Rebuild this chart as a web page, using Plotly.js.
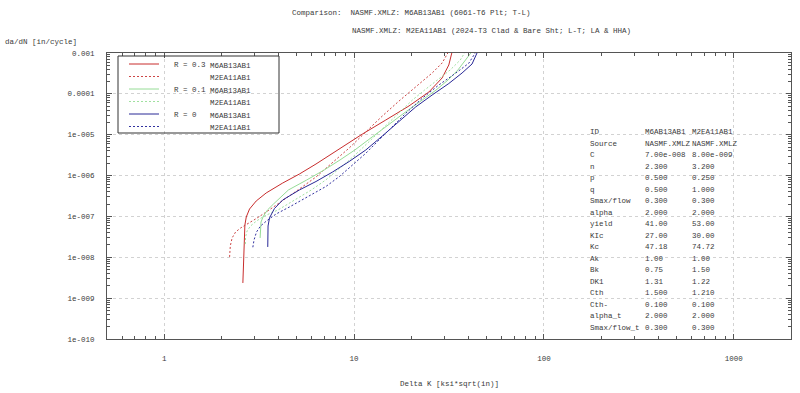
<!DOCTYPE html>
<html><head><meta charset="utf-8">
<script src="https://cdn.plot.ly/plotly-3.0.1.min.js"></script>
<style>html,body{margin:0;padding:0;background:#fff}</style>
</head><body><div id="chart" style="width:800px;height:393px"></div>
<script>
// ---------- data ----------
const rLabels = ['R = 0.3', 'R = 0.1', 'R = 0'];
const matIds = ['M6AB13AB1', 'M2EA11AB1'];

const r03_M6_K    = [2.597, 2.610, 2.626, 2.638, 2.661, 2.706, 2.816, 3.053, 3.445, 4.211, 5.152, 6.303, 8.354, 11.07, 14.69, 19.46, 24.78, 29.09, 31.55, 32.71];
const r03_M6_dadn = [2.35e-9, 4.89e-9, 1.51e-8, 3.52e-8, 6.17e-8, 9.68e-8, 1.52e-7, 2.39e-7, 3.75e-7, 6.58e-7, 1.09e-6, 1.92e-6, 4.48e-6, 1.04e-5, 2.29e-5, 5.05e-5, 1.11e-4, 2.45e-4, 5.09e-4, 1.0e-3];

const r03_M2_K    = [2.211, 2.230, 2.279, 2.378, 2.526, 2.749, 3.028, 3.445, 4.211, 5.152, 6.303, 7.701, 9.426, 11.53, 14.09, 17.25, 21.10, 25.78, 29.09, 31.17];
const r03_M2_dadn = [1.02e-8, 1.89e-8, 2.97e-8, 4.16e-8, 5.21e-8, 6.53e-8, 8.65e-8, 1.28e-7, 2.39e-7, 4.70e-7, 9.23e-7, 2.03e-6, 4.73e-6, 1.17e-5, 2.87e-5, 6.68e-5, 1.47e-4, 3.24e-4, 5.69e-4, 1.0e-3];

const r01_M6_K    = [3.201, 3.205, 3.236, 3.335, 3.501, 3.763, 4.096, 4.511, 5.633, 6.960, 8.433, 10.10, 11.86, 13.91, 16.33, 19.29, 22.88, 27.03, 31.28, 35.22, 38.28, 41.17];
const r01_M6_dadn = [2.97e-8, 5.21e-8, 7.31e-8, 1.03e-7, 1.44e-7, 2.01e-7, 2.99e-7, 4.44e-7, 7.80e-7, 1.37e-6, 2.41e-6, 4.23e-6, 7.43e-6, 1.31e-5, 2.29e-5, 4.03e-5, 7.07e-5, 1.24e-4, 2.19e-4, 3.84e-4, 6.37e-4, 1.0e-3];

const r01_M2_K    = [2.677, 2.683, 2.733, 2.850, 3.064, 3.376, 3.978, 4.891, 5.954, 7.096, 8.232, 9.460, 10.80, 12.24, 13.82, 15.64, 17.75, 20.30, 23.52, 27.46, 32.08, 36.26, 38.18];
const r01_M2_dadn = [2.11e-8, 3.14e-8, 4.41e-8, 5.83e-8, 7.73e-8, 1.03e-7, 1.44e-7, 2.53e-7, 4.44e-7, 7.80e-7, 1.37e-6, 2.41e-6, 4.23e-6, 7.43e-6, 1.31e-5, 2.29e-5, 4.03e-5, 7.07e-5, 1.24e-4, 2.19e-4, 3.84e-4, 6.74e-4, 1.0e-3];

const r00_M6_K    = [3.512, 3.513, 3.525, 3.586, 3.809, 4.211, 5.152, 6.303, 7.701, 9.426, 11.53, 14.09, 17.25, 21.10, 25.78, 31.55, 37.05, 41.81, 44.41];
const r00_M6_dadn = [1.79e-8, 3.52e-8, 5.83e-8, 9.16e-8, 1.56e-7, 2.53e-7, 4.44e-7, 7.16e-7, 1.22e-6, 2.21e-6, 4.23e-6, 9.31e-6, 2.17e-5, 4.77e-5, 9.37e-5, 1.79e-4, 3.24e-4, 5.38e-4, 1.0e-3];

const r00_M2_K    = [2.931, 2.973, 3.064, 3.217, 3.457, 3.889, 4.565, 5.812, 7.112, 8.354, 9.809, 11.53, 13.54, 15.91, 18.70, 22.85, 27.96, 34.20, 40.18, 43.45];
const r00_M2_dadn = [1.76e-8, 2.65e-8, 4.16e-8, 5.83e-8, 7.73e-8, 1.15e-7, 1.70e-7, 3.16e-7, 5.41e-7, 9.40e-7, 1.82e-6, 3.51e-6, 7.43e-6, 1.57e-5, 3.34e-5, 7.78e-5, 1.65e-4, 3.18e-4, 5.60e-4, 1.0e-3];

const xTickVals = [1, 10, 100, 1000];
const xTickText = ['1', '10', '100', '1000'];
const yTickVals = [1e-10, 1e-9, 1e-8, 1e-7, 1e-6, 1e-5, 1e-4, 1e-3];
const yTickText = ['1e-010', '1e-009', '1e-008', '1e-007', '1e-006', '1e-005', '0.0001', '0.001'];

const tableParams = ['ID', 'Source', 'C', 'n', 'p', 'q', 'Smax/flow', 'alpha', 'yield', 'KIc', 'Kc', 'Ak', 'Bk', 'DK1', 'Cth', 'Cth-', 'alpha_t', 'Smax/flow_t'];
const tableM6 = ['M6AB13AB1', 'NASMF.XMLZ', '7.00e-008', '2.300', '0.500', '0.500', '0.300', '2.000', '41.00', '27.00', '47.18', '1.00', '0.75', '1.31', '1.500', '0.100', '2.000', '0.300'];
const tableM2 = ['M2EA11AB1', 'NASMF.XMLZ', '8.00e-009', '3.200', '0.250', '1.000', '0.300', '2.000', '53.00', '30.00', '74.72', '1.00', '1.50', '1.22', '1.210', '0.100', '2.000', '0.300'];

const titleLine1 = 'Comparison:  NASMF.XMLZ: M6AB13AB1 (6061-T6 Plt; T-L)';
const titleLine2 = 'NASMF.XMLZ: M2EA11AB1 (2024-T3 Clad & Bare Sht; L-T; LA & HHA)';
const yTitle = 'da/dN [in/cycle]';
const xTitle = 'Delta K [ksi*sqrt(in)]';

// ---------- styling ----------
const FONT = 'Liberation Mono, Courier New, monospace';
const TXT = '#3a3a3a';
const colors = ['rgb(200,45,45)', 'rgb(150,220,150)', 'rgb(40,40,150)'];
const dashColors = ['rgb(205,70,70)', 'rgb(160,225,160)', 'rgb(50,50,160)'];
const DASH = '2px,2px';

const L = 107, R = 791, T = 53, B = 339;
const xp = px => (px - L) / (R - L);
const yp = py => (B - py) / (B - T);

const series = [
  [r03_M6_K, r03_M6_dadn, 0, 'solid'],
  [r03_M2_K, r03_M2_dadn, 0, 'dash'],
  [r01_M6_K, r01_M6_dadn, 1, 'solid'],
  [r01_M2_K, r01_M2_dadn, 1, 'dash'],
  [r00_M6_K, r00_M6_dadn, 2, 'solid'],
  [r00_M2_K, r00_M2_dadn, 2, 'dash']
];
const traces = series.map(([x, y, ci, st]) => ({
  x: x, y: y, type: 'scatter', mode: 'lines', showlegend: false, hoverinfo: 'skip',
  line: {color: st === 'solid' ? colors[ci] : dashColors[ci], width: 1, dash: st === 'solid' ? 'solid' : DASH}
}));

function minorTicks(lo, hi) {
  const out = [];
  for (let e = lo; e <= hi; e++) for (let d = 2; d <= 9; d++) out.push(d * Math.pow(10, e));
  return out;
}

const annotations = [];
const shapes = [];
function txt(text, px, py, anchor, size) {
  annotations.push({text: text, xref: 'paper', yref: 'paper', x: xp(px), y: yp(py),
    xanchor: anchor || 'left', yanchor: 'middle', showarrow: false,
    font: {family: FONT, size: size || 7.5, color: TXT}});
}

txt(titleLine1, 290, 13);
txt(titleLine2, 350, 31);
txt(yTitle, 3, 42);
txt(xTitle, 449, 384, 'center');

shapes.push({type: 'rect', xref: 'paper', yref: 'paper', x0: xp(118), x1: xp(279), y0: yp(56), y1: yp(133),
  line: {color: '#333', width: 1}, fillcolor: 'rgba(0,0,0,0)'});
const rowY = [64, 76.5, 89, 101.5, 114, 126.5];
for (let i = 0; i < 6; i++) {
  const ci = Math.floor(i / 2), solid = i % 2 === 0;
  shapes.push({type: 'line', xref: 'paper', yref: 'paper', x0: xp(129), x1: xp(159), y0: yp(rowY[i]), y1: yp(rowY[i]),
    line: {color: solid ? colors[ci] : dashColors[ci], width: 1, dash: solid ? 'solid' : DASH}});
  if (solid) txt(rLabels[ci], 172, rowY[i] + 1);
  txt(matIds[i % 2], 208, rowY[i] + 1.5);
}

for (let i = 0; i < tableParams.length; i++) {
  const y = 132 + i * 11.5;
  txt(tableParams[i], 588, y);
  txt(tableM6[i], 643, y);
  txt(tableM2[i], 690, y);
}

const axisCommon = {
  type: 'log', showline: true, linecolor: '#555', linewidth: 1, mirror: 'ticks',
  ticks: 'inside', ticklen: 5, tickcolor: '#555', tickwidth: 1,
  showgrid: true, gridcolor: '#d2d2d2', griddash: '3px,3px', gridwidth: 1, zeroline: false,
  tickfont: {family: FONT, size: 7.5, color: TXT}, tickmode: 'array'
};

const layout = {
  width: 800, height: 393,
  margin: {l: L, r: 800 - R, t: T, b: 393 - B, pad: 0},
  paper_bgcolor: '#fff', plot_bgcolor: '#fff',
  xaxis: Object.assign({}, axisCommon, {
    range: [Math.log10(0.5), Math.log10(2000)], tickvals: xTickVals, ticktext: xTickText,
    ticklabelstandoff: 12,
    minor: {tickmode: 'array', tickvals: minorTicks(-1, 3), ticks: 'inside', ticklen: 3, tickcolor: '#555', showgrid: false}
  }),
  yaxis: Object.assign({}, axisCommon, {
    range: [-10, -3], tickvals: yTickVals, ticktext: yTickText,
    ticklabelstandoff: 10,
    minor: {tickmode: 'array', tickvals: minorTicks(-10, -4), ticks: 'inside', ticklen: 3, tickcolor: '#555', showgrid: false}
  }),
  annotations: annotations,
  shapes: shapes
};

Plotly.newPlot('chart', traces, layout, {displayModeBar: false, staticPlot: true});
</script>
</body></html>
